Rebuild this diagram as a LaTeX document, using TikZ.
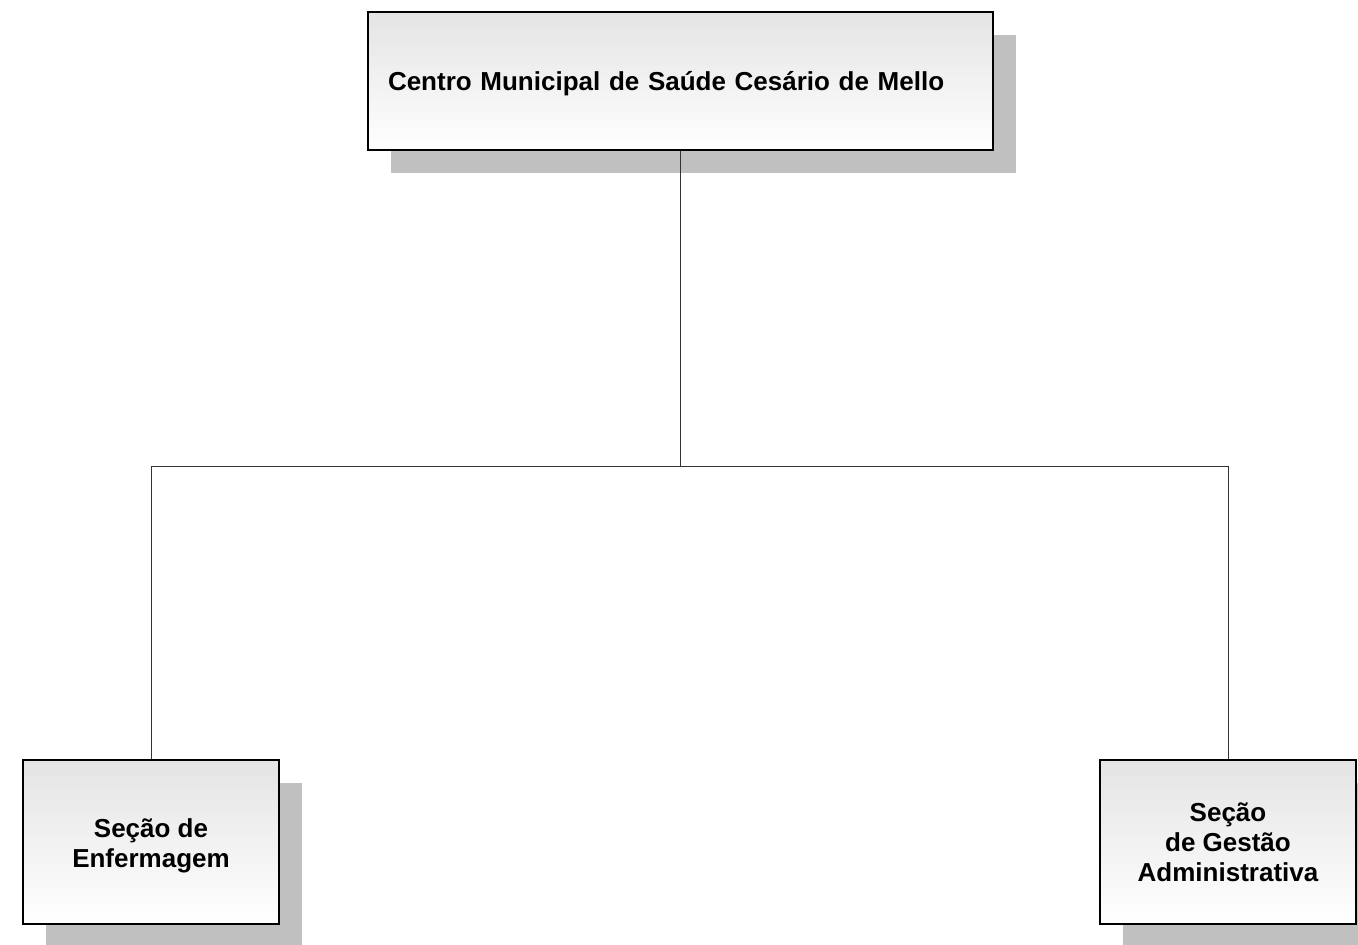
\documentclass[tikz,border=0pt]{standalone}
\usepackage{fontspec}
\setmainfont{Liberation Sans}
\usetikzlibrary{shadows}
\definecolor{shadowgray}{RGB}{192,192,192}
\definecolor{boxtop}{RGB}{228,228,228}
\newcommand{\lowered}[2]{\raisebox{#1}[\height][\depth]{#2}}
\tikzset{
  orgbox/.style={draw=black, line width=2pt, rectangle, top color=boxtop, bottom color=white,
    font=\fontsize{26}{30}\selectfont\bfseries,
    drop shadow={shadow xshift=23pt, shadow yshift=-23pt, fill=shadowgray, opacity=1}},
  link/.style={draw=black!80, line width=1pt}
}
\begin{document}
\begin{tikzpicture}[x=1pt,y=-1pt]
\useasboundingbox (0,0) rectangle (1358,945);
\node[orgbox, minimum width=625pt, minimum height=138pt, text width=585pt, inner xsep=20pt, align=left] (top) at (680.5,81) {\lowered{-3pt}{Centro Municipal de Saúde Cesário de Mello}};
\node[orgbox, minimum width=256pt, minimum height=164pt] (left) at (151,842) {\lowered{-4pt}{\begin{tabular}{@{}c@{}}Seção de\\Enfermagem\end{tabular}}};
\node[orgbox, minimum width=256pt, minimum height=164pt, align=center] (right) at (1228,842) {Seção\\de Gestão\\Administrativa};
\coordinate (j) at (680.5,466);
\draw[link] (top.south) -- (j);
\draw[link] (left.north) -- (left.north |- j) -- (right.north |- j) -- (right.north);
\end{tikzpicture}
\end{document}
